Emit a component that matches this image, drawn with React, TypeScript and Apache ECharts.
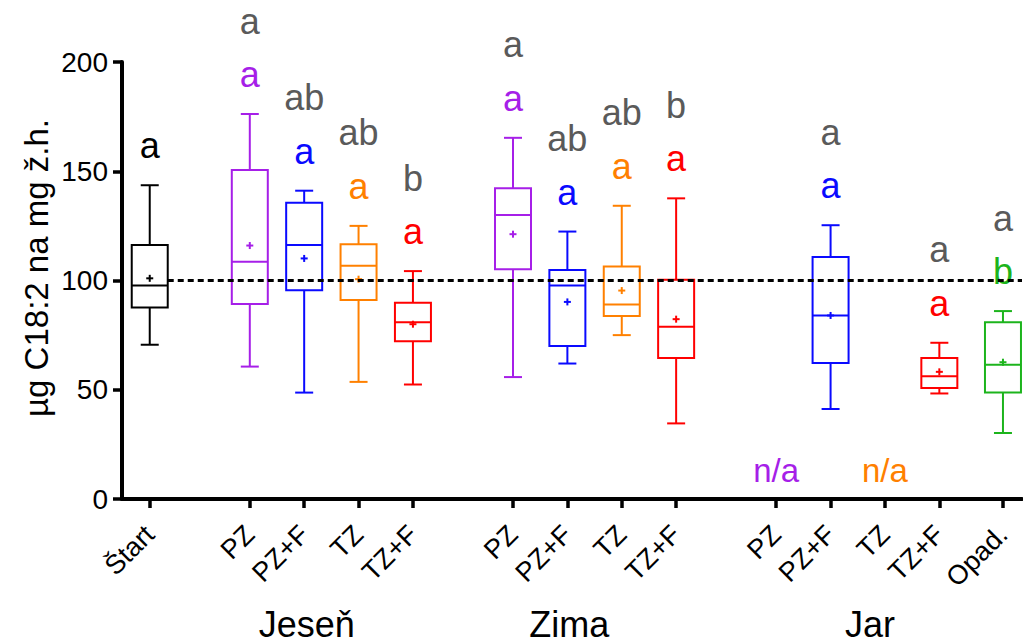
import React, { useEffect, useRef } from 'react';
import * as echarts from 'echarts';

// ---- data ----
const categories = ['Štart', 'PZ', 'PZ+F', 'TZ', 'TZ+F', 'PZ', 'PZ+F', 'TZ', 'TZ+F', 'PZ', 'PZ+F', 'TZ', 'TZ+F', 'Opad.'];
// category positions on the x scale (groups separated by gaps)
const slots = [0, 1.84, 2.84, 3.84, 4.84, 6.68, 7.68, 8.68, 9.68, 11.52, 12.52, 13.52, 14.52, 15.69];
const seasons = ['Jeseň', 'Zima', 'Jar'];

const whiskerLow = [70.6, 60.6, 48.7, 53.6, 52.4, 55.8, 62, 75, 34.6, null, 41.2, null, 48.3, 30.2];
const q1 = [87.6, 89.2, 95.5, 91.1, 72.2, 105.2, 70, 83.7, 64.5, null, 62.2, null, 50.8, 48.7];
const median = [97.7, 108.6, 116.3, 106.8, 80.9, 130, 97.7, 89, 78.8, null, 84, null, 56.2, 61.4];
const q3 = [116.3, 150.6, 135.6, 116.6, 89.8, 142.2, 104.8, 106.4, 100.3, null, 110.7, null, 64.5, 80.9];
const whiskerHigh = [143.6, 176.2, 141.1, 125, 104.3, 165.3, 122.4, 134.2, 137.6, null, 125.3, null, 71.5, 86];
const means = [101, 116, 110.1, 100.6, 80, 121.2, 90.2, 95.4, 82.3, null, 84, null, 58.2, 62.6];
const groupLetters = ['a', 'a', 'a', 'a', 'a', 'a', 'a', 'a', 'a', 'n/a', 'a', 'n/a', 'a', 'b'];
const seasonLetters = ['', 'a', 'ab', 'ab', 'b', 'a', 'ab', 'ab', 'b', '', 'a', '', 'a', 'a'];
const referenceLevel = 100;
const yTicks = [0, 50, 100, 150, 200];

// ---- styles ----
const PURPLE = '#A61FE8';
const BLUE = '#0A0AFF';
const ORANGE = '#FF8000';
const RED = '#FF0000';
const GREEN = '#1CB41C';
const GRAY = '#5A5A5A';
const boxColors = ['#000000', PURPLE, BLUE, ORANGE, RED, PURPLE, BLUE, ORANGE, RED, PURPLE, BLUE, ORANGE, RED, GREEN];
const FONT = "'Liberation Sans', Arial, Helvetica, sans-serif";
const BOX_HALF_PX = 18;
const CAP_HALF_PX = 9;
const PLUS_HALF_PX = 3.5;

export default function App() {
  const ref = useRef<HTMLDivElement>(null);

  useEffect(() => {
    if (!ref.current) return;
    const chart = echarts.init(ref.current, undefined, { renderer: 'svg' });

    const renderBox = (params: any, api: any) => {
      const i = params.dataIndex;
      const x = api.value(0);
      const color = boxColors[i];
      if (whiskerHigh[i] == null) {
        const p = api.coord([x, 0]);
        return {
          type: 'text',
          style: {
            text: groupLetters[i], x: p[0], y: p[1] - 29, fill: color,
            fontSize: 33, fontFamily: FONT, align: 'center', verticalAlign: 'middle',
          },
        };
      }
      const pLo = api.coord([x, whiskerLow[i]]);
      const pQ1 = api.coord([x, q1[i]]);
      const pMed = api.coord([x, median[i]]);
      const pQ3 = api.coord([x, q3[i]]);
      const pHi = api.coord([x, whiskerHigh[i]]);
      const pMean = api.coord([x, means[i]]);
      const cx = pMed[0];
      const ls = { stroke: color, lineWidth: 2, fill: 'none' };
      const line = (x1: number, y1: number, x2: number, y2: number) => ({
        type: 'line', shape: { x1, y1, x2, y2 }, style: ls,
      });
      const children: any[] = [
        line(cx, pLo[1], cx, pQ1[1]),
        line(cx, pQ3[1], cx, pHi[1]),
        line(cx - CAP_HALF_PX, pLo[1], cx + CAP_HALF_PX, pLo[1]),
        line(cx - CAP_HALF_PX, pHi[1], cx + CAP_HALF_PX, pHi[1]),
        {
          type: 'rect',
          shape: { x: cx - BOX_HALF_PX, y: pQ3[1], width: BOX_HALF_PX * 2, height: pQ1[1] - pQ3[1] },
          style: ls,
        },
        line(cx - BOX_HALF_PX, pMed[1], cx + BOX_HALF_PX, pMed[1]),
        line(cx - PLUS_HALF_PX, pMean[1], cx + PLUS_HALF_PX, pMean[1]),
        line(cx, pMean[1] - PLUS_HALF_PX, cx, pMean[1] + PLUS_HALF_PX),
      ];
      if (groupLetters[i]) {
        children.push({
          type: 'text',
          style: {
            text: groupLetters[i], x: cx, y: pHi[1] - 39.5, fill: color,
            fontSize: 36, fontFamily: FONT, align: 'center', verticalAlign: 'middle',
          },
        });
      }
      if (seasonLetters[i]) {
        children.push({
          type: 'text',
          style: {
            text: seasonLetters[i], x: cx, y: pHi[1] - 93, fill: GRAY,
            fontSize: 36, fontFamily: FONT, align: 'center', verticalAlign: 'middle',
          },
        });
      }
      return { type: 'group', children };
    };

    const renderRef = (params: any, api: any) => {
      const p = api.coord([slots[0], referenceLevel]);
      const cs = params.coordSys;
      return {
        type: 'line',
        shape: { x1: p[0] + BOX_HALF_PX, y1: p[1], x2: cs.x + cs.width, y2: p[1] },
        style: { stroke: '#000', lineWidth: 3, lineDash: [6, 4] },
      };
    };

    const seasonLabelPos = [
      { x: 306.7, y: 624 },
      { x: 569.2, y: 624 },
      { x: 870, y: 624 },
    ];

    const option: any = {
      animation: false,
      grid: { left: 122, right: 1, top: 62, bottom: 144, containLabel: false },
      xAxis: {
        type: 'value',
        min: -0.51,
        max: 16.04,
        splitLine: { show: false },
        axisLine: { show: true, onZero: false, lineStyle: { color: '#000', width: 4 } },
        axisTick: {
          show: true, length: 9, inside: false,
          customValues: slots,
          lineStyle: { color: '#000', width: 3.5 },
        },
        axisLabel: {
          customValues: slots,
          rotate: 45,
          margin: 31,
          fontSize: 27,
          fontFamily: FONT,
          color: '#000',
          formatter: (v: number) => {
            const idx = slots.findIndex((s) => Math.abs(s - v) < 1e-6);
            return idx >= 0 ? categories[idx] : '';
          },
        },
      },
      yAxis: {
        type: 'value',
        min: 0,
        max: 200,
        interval: 50,
        splitLine: { show: false },
        axisLine: { show: true, onZero: false, lineStyle: { color: '#000', width: 4 } },
        axisTick: { show: true, length: 9, lineStyle: { color: '#000', width: 3.5 } },
        axisLabel: {
          fontSize: 28, fontFamily: FONT, color: '#000', margin: 14,
          formatter: (v: number) => (yTicks.includes(v) ? String(v) : ''),
        },
      },
      graphic: [
        {
          type: 'text',
          x: 36,
          y: 268,
          rotation: Math.PI / 2,
          style: {
            text: 'µg C18:2 na mg ž.h.',
            fontSize: 33, fontFamily: FONT, fill: '#000',
            align: 'center', verticalAlign: 'middle',
            textAlign: 'center', textVerticalAlign: 'middle',
          },
        },
        ...seasons.map((s, k) => ({
          type: 'text',
          x: seasonLabelPos[k].x,
          y: seasonLabelPos[k].y,
          style: {
            text: s,
            fontSize: 36, fontFamily: FONT, fill: '#000',
            align: 'center', verticalAlign: 'middle',
            textAlign: 'center', textVerticalAlign: 'middle',
          },
        })),
      ],
      series: [
        {
          type: 'custom',
          renderItem: renderBox,
          data: slots.map((s, i) => [s, i]),
          encode: { x: 0 },
          clip: false,
          z: 2,
        },
        {
          type: 'custom',
          renderItem: renderRef,
          data: [[slots[0], referenceLevel]],
          encode: { x: 0, y: 1 },
          clip: false,
          z: 3,
        },
      ],
    };
    chart.setOption(option);
    return () => chart.dispose();
  }, []);

  return (
    <div
      ref={ref}
      style={{ position: 'fixed', left: 0, top: 0, width: 1023, height: 643, background: '#fff' }}
    />
  );
}
